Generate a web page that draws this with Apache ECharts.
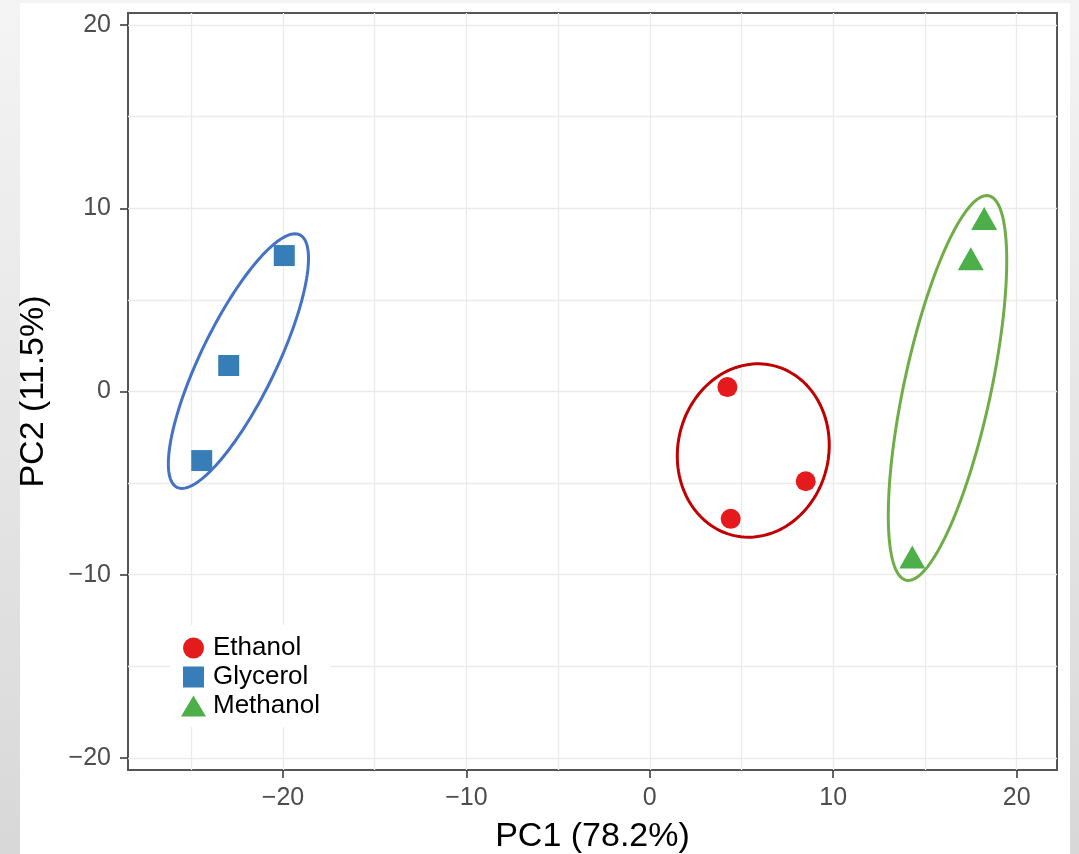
<!DOCTYPE html>
<html>
<head>
<meta charset="utf-8">
<script src="https://cdn.jsdelivr.net/npm/echarts@6/dist/echarts.min.js"></script>
<style>
  html, body { margin: 0; padding: 0; }
  body { background: linear-gradient(#f4f4f4, #d8d8d8); }
  #chart { width: 1079px; height: 854px; }
</style>
</head>
<body>
<div id="chart"></div>
<script>
// PCA scores [PC1, PC2]
const ethanol = [[4.23, 0.24], [4.41, -6.95], [8.50, -4.90]];
const glycerol = [[-19.93, 7.42], [-22.96, 1.42], [-24.43, -3.77]];
const methanol = [[18.23, 9.44], [17.50, 7.24], [14.31, -9.04]];

// ellipses: [centre x, centre y, semi-major, semi-minor, angle deg]
const ethanolEllipse = [5.64, -3.22, 4.76, 4.11, 77.5];
const glycerolEllipse = [-22.43, 1.66, 7.66, 2.05, 64.1];
const methanolEllipse = [16.23, 0.19, 10.73, 2.37, 77.9];

const groups = ['Ethanol', 'Glycerol', 'Methanol'];
const xTicks = [-20, -10, 0, 10, 20];
const yTicks = [-20, -10, 0, 10, 20];
const xGrid = [-25, -20, -15, -10, -5, 0, 5, 10, 15, 20];
const yGrid = [-20, -15, -10, -5, 0, 5, 10, 15, 20];

const font = '"Liberation Sans", Arial, sans-serif';
const chart = echarts.init(document.getElementById('chart'), null, { renderer: 'canvas' });

// ellipse outline, drawn through the axis scales
function ellipseItem(color) {
  return function (params, api) {
    const cx = api.value(0), cy = api.value(1);
    const a = api.value(2), b = api.value(3);
    const th = api.value(4) * Math.PI / 180;
    const pts = [];
    for (let i = 0; i <= 144; i++) {
      const t = i / 144 * Math.PI * 2;
      const ex = a * Math.cos(t), ey = b * Math.sin(t);
      pts.push(api.coord([
        cx + ex * Math.cos(th) - ey * Math.sin(th),
        cy + ex * Math.sin(th) + ey * Math.cos(th)
      ]));
    }
    return {
      type: 'polygon',
      shape: { points: pts },
      style: { fill: 'none', stroke: color, lineWidth: 3 }
    };
  };
}

// ggplot style minus sign
const tickFmt = v => (v < 0 ? '\u2212' + Math.abs(v) : String(v));

const gridLine = { color: '#ebebeb', width: 1.3, type: 'solid' };

const option = {
  animation: false,
  backgroundColor: 'transparent',
  textStyle: { fontFamily: font },
  graphic: [{
    type: 'rect', z: -10, silent: true,
    shape: { x: 20, y: 3, width: 1050, height: 860 },
    style: { fill: '#ffffff' }
  }],
  grid: {
    left: 128, right: 22, top: 13, bottom: 84,
    outerBoundsMode: 'none', containLabel: false,
    show: true, borderColor: '#555555', borderWidth: 2, backgroundColor: 'transparent'
  },
  xAxis: {
    type: 'value', min: -28.45, max: 22.2,
    name: 'PC1 (78.2%)', nameLocation: 'middle', nameGap: 50,
    nameTextStyle: { fontSize: 34, color: '#000', fontFamily: font },
    axisLine: { show: false, onZero: false },
    axisTick: { show: true, length: 8, customValues: xTicks, lineStyle: { color: '#333', width: 1.5 } },
    axisLabel: { customValues: xTicks, formatter: tickFmt, fontSize: 25, color: '#4d4d4d', margin: 16, fontFamily: font },
    splitLine: { show: false }
  },
  yAxis: {
    type: 'value', min: -20.66, max: 20.66,
    name: 'PC2 (11.5%)', nameLocation: 'middle', nameGap: 77,
    nameTextStyle: { fontSize: 34, color: '#000', fontFamily: font },
    axisLine: { show: false, onZero: false },
    axisTick: { show: true, length: 8, customValues: yTicks, lineStyle: { color: '#333', width: 1.5 } },
    axisLabel: { customValues: yTicks, formatter: tickFmt, fontSize: 25, color: '#4d4d4d', margin: 17, fontFamily: font },
    splitLine: { show: false }
  },
  legend: {
    orient: 'vertical', left: 170, top: 625, z: 6,
    padding: [10, 10, 8, 11],
    backgroundColor: '#ffffff',
    itemWidth: 25, itemHeight: 21, itemGap: 3,
    textStyle: { fontSize: 26, color: '#000', fontFamily: font, padding: [0, 0, 0, 2] },
    data: [
      { name: groups[0], icon: 'circle' },
      { name: groups[1], icon: 'path://M0,0h10v10h-10z' },
      { name: groups[2], icon: 'triangle' }
    ]
  },
  series: [
    {
      type: 'scatter', name: 'grid', data: [], silent: true, z: 0,
      markLine: {
        silent: true, symbol: 'none', animation: false, z: 0,
        label: { show: false },
        lineStyle: gridLine,
        emphasis: { disabled: true },
        data: xGrid.map(v => ({ xAxis: v })).concat(yGrid.map(v => ({ yAxis: v })))
      }
    },
    {
      type: 'custom', name: 'ethEllipse', data: [ethanolEllipse], z: 2,
      encode: { x: 0, y: 1 }, renderItem: ellipseItem('#c00000'), silent: true
    },
    {
      type: 'custom', name: 'glyEllipse', data: [glycerolEllipse], z: 2,
      encode: { x: 0, y: 1 }, renderItem: ellipseItem('#4472c4'), silent: true
    },
    {
      type: 'custom', name: 'metEllipse', data: [methanolEllipse], z: 2,
      encode: { x: 0, y: 1 }, renderItem: ellipseItem('#70ad47'), silent: true
    },
    {
      type: 'scatter', name: groups[0], data: ethanol, z: 3,
      symbol: 'circle', symbolSize: 20, itemStyle: { color: '#e41a1c', opacity: 1 }
    },
    {
      type: 'scatter', name: groups[1], data: glycerol, z: 3,
      symbol: 'rect', symbolSize: 21, itemStyle: { color: '#377eb8', opacity: 1 }
    },
    {
      type: 'scatter', name: groups[2], data: methanol, z: 3,
      symbol: 'triangle', symbolSize: [26, 23], itemStyle: { color: '#4daf4a', opacity: 1 }
    }
  ]
};

chart.setOption(option);
</script>
</body>
</html>
